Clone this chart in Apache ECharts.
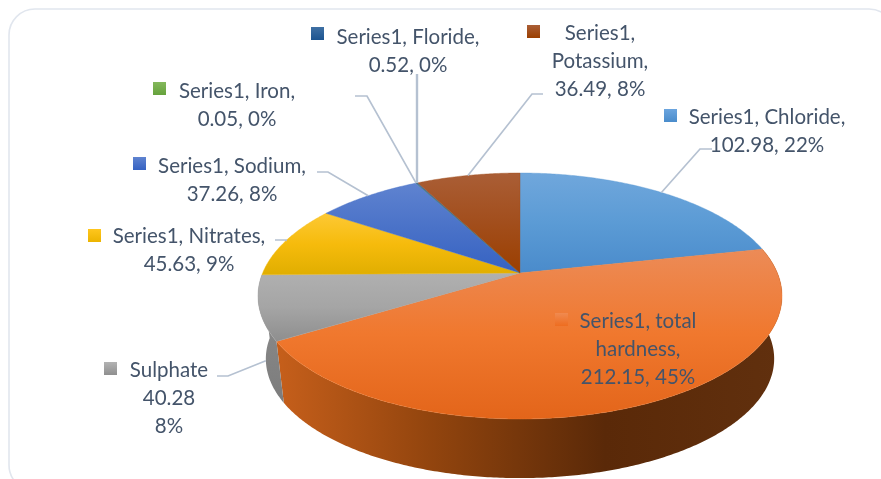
<!DOCTYPE html>
<html>
<head>
<meta charset="utf-8">
<style>
  html, body { margin: 0; background: #fff; overflow: hidden; }
  #chart { width: 881px; height: 479px; }
</style>
<script src="https://cdn.jsdelivr.net/npm/echarts@6/dist/echarts.min.js"></script>
</head>
<body>
<div id="chart"></div>
<script>
// values, clockwise from 12 o'clock
const categories = ["Chloride", "total hardness", "Sulphate", "Nitrates", "Sodium", "Iron", "Floride", "Potassium"];
const values = [102.98, 212.15, 40.28, 45.63, 37.26, 0.05, 0.52, 36.49];
const percents = [22, 45, 8, 9, 8, 0, 0, 8];
const labelLines = [
  ["Series1, Chloride,", "102.98, 22%"],
  ["Series1, total", "hardness,", "212.15, 45%"],
  ["Sulphate", "40.28", "8%"],
  ["Series1, Nitrates,", "45.63, 9%"],
  ["Series1, Sodium,", "37.26, 8%"],
  ["Series1, Iron,", "0.05, 0%"],
  ["Series1, Floride,", "0.52, 0%"],
  ["Series1,", "Potassium,", "36.49, 8%"],
];

// gradient stops of each slice top, light to dark
const topColors = [
  ["#70a7dc", "#5b9bd5", "#4a8bcb"],
  ["#ec8b57", "#f0782e", "#e3651a"],
  ["#b0b0b0", "#a5a5a5", "#8e8e8e"],
  ["#fdc935", "#f6bb0c", "#e0ae00"],
  ["#5f83d0", "#4a72c8", "#3562c2"],
  ["#84b85c", "#74ac4a", "#66a23c"],
  ["#3f70a4", "#2d629a", "#1c5490"],
  ["#aa5e36", "#a24e1c", "#9b3f00"],
];
const keyColors = [
  ["#6ba5df", "#4a8ccb"],
  ["#f08a50", "#ee6d20"],
  ["#b3b3b3", "#8f8f8f"],
  ["#ffc61e", "#ecb400"],
  ["#5f83d0", "#3562c2"],
  ["#84b85c", "#66a23c"],
  ["#3f70a4", "#1c5490"],
  ["#aa5e36", "#9b3f00"],
];

// label placement: text centre x, first line centre y, key box left/top, leader elbow
const labelLayout = [
  { x: 767, y: 116, kx: 664, ky: 109, elbow: [[712, 149], [700, 149]] },
  { x: 638, y: 320, kx: 555, ky: 313 },
  { x: 169, y: 369, kx: 104, ky: 362, elbow: [[217, 376], [228, 376]], onWall: true },
  { x: 189, y: 235, kx: 88, ky: 229, elbow: [[275, 240], [286, 240]] },
  { x: 232, y: 165, kx: 133, ky: 157, elbow: [[317, 172], [328, 172]] },
  { x: 237, y: 90, kx: 153, ky: 82, elbow: [[355, 96], [367, 96]] },
  { x: 408, y: 36, kx: 311, ky: 27, elbow: [[417, 74]], thick: true },
  { x: 600, y: 32, kx: 527, ky: 25, elbow: [[543, 94], [532, 94]] },
];

const total = values.reduce((a, b) => a + b, 0);
const starts = [];
values.reduce((sum, v, i) => { starts[i] = sum; return sum + v; }, 0);

// perspective projection of the pie disc
const apexX = 520, apexY = 273;
const persp = 0.187, radX = 257.4, radY = 118.7;
const wallDrop = 63.5, wallShrink = 0.97;

function rimPoint(angle, lower) {
  const u = Math.sin(angle), v = Math.cos(angle);
  const d = 1 + persp * v;
  const s = lower ? wallShrink : 1;
  return [apexX + s * radX * u / d, apexY + (lower ? wallDrop : 0) - s * radY * v / d];
}

function sliceAngles(i) {
  const a0 = starts[i] / total * Math.PI * 2;
  return [a0, a0 + values[i] / total * Math.PI * 2];
}

function arc(a0, a1, lower) {
  const n = Math.max(2, Math.ceil((a1 - a0) / 0.01));
  const pts = [];
  for (let k = 0; k <= n; k++) pts.push(rimPoint(a0 + (a1 - a0) * k / n, lower));
  return pts;
}

function vGrad(c) {
  return new echarts.graphic.LinearGradient(0, 0, 0, 1, c.map((color, k) => ({
    offset: k / (c.length - 1),
    color,
  })));
}

// only the front of the side wall is visible, the tops cover the rest
const orangeWall = new echarts.graphic.LinearGradient(0, 0, 1, 0, [
  { offset: 0, color: "#c65f1b" },
  { offset: 0.3, color: "#93450e" },
  { offset: 0.65, color: "#5a2908" },
  { offset: 1, color: "#61300e" },
]);
const grayWall = new echarts.graphic.LinearGradient(0, 0, 0, 1, [
  { offset: 0, color: "#8f8f8f" },
  { offset: 1, color: "#7c7c7c" },
]);
const wallFills = { 1: orangeWall, 2: grayWall };

function renderWall(params, api) {
  const fill = wallFills[params.dataIndex];
  if (!fill || !api.value(0)) return;
  const [a0, a1] = sliceAngles(params.dataIndex);
  const points = arc(a0, a1, false).concat(arc(a0, a1, true).reverse());
  return { type: "polygon", shape: { points }, style: { fill } };
}

function renderTop(params, api) {
  const i = params.dataIndex;
  const [a0, a1] = sliceAngles(i);
  const points = [[apexX, apexY]].concat(arc(a0, a1, false));
  const fill = vGrad(topColors[i]);
  return {
    type: "polygon",
    shape: { points },
    style: { fill, stroke: topColors[i][1], lineWidth: 0.4 },
  };
}

function renderLabel(params, api) {
  const i = params.dataIndex;
  const lay = labelLayout[i];
  const children = [];
  if (lay.elbow) {
    const [a0, a1] = sliceAngles(i);
    const mid = (a0 + a1) / 2;
    let end = rimPoint(mid, false);
    if (lay.onWall) {
      // sulphate's leader lands on the wall, most of the way down
      const low = rimPoint(mid, true);
      end = [end[0] + (low[0] - end[0]) * 0.85, end[1] + (low[1] - end[1]) * 0.85];
    }
    children.push({
      type: "polyline",
      shape: { points: lay.elbow.concat([lay.thick ? [lay.elbow[0][0], end[1]] : end]) },
      style: { stroke: "#b5c1d1", lineWidth: lay.thick ? 2.4 : 1.7, fill: null },
    });
  }
  children.push({
    type: "rect",
    shape: { x: lay.kx, y: lay.ky, width: 13, height: 13 },
    style: { fill: vGrad(keyColors[i]) },
  });
  children.push({
    type: "text",
    style: {
      x: lay.x,
      y: lay.y - 13,
      text: labelLines[i].join("\n"),
      fill: "#44546a",
      font: '20.5px Lato, "Open Sans", sans-serif',
      lineHeight: 28,
      align: "center",
      verticalAlign: "top",
    },
  });
  return { type: "group", children };
}

const chartDom = document.getElementById("chart");
const myChart = echarts.init(chartDom);

const seriesData = values.map((v, i) => ({ name: categories[i], value: [v, percents[i]] }));

const option = {
  animation: false,
  backgroundColor: "#ffffff",
  graphic: [
    {
      type: "rect",
      shape: { x: 9, y: 9, width: 886, height: 482, r: 26 },
      style: { fill: null, stroke: "#e1e6ee", lineWidth: 1.6 },
      silent: true,
    },
  ],
  series: [
    { type: "custom", coordinateSystem: "none", data: seriesData, renderItem: renderWall, z: 2, silent: true },
    { type: "custom", coordinateSystem: "none", data: seriesData, renderItem: renderTop, z: 3, silent: true },
    { type: "custom", coordinateSystem: "none", data: seriesData, renderItem: renderLabel, z: 4, silent: true },
  ],
};

myChart.setOption(option);
</script>
</body>
</html>
